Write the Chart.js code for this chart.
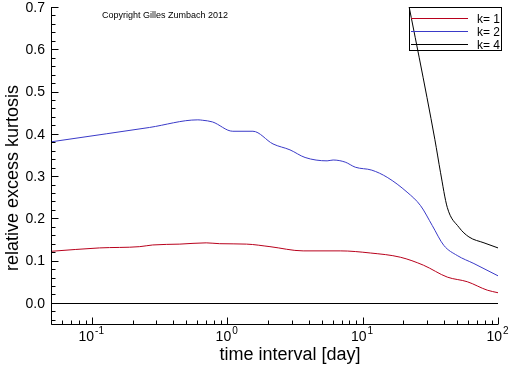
<!DOCTYPE html>
<html>
<head>
<meta charset="utf-8">
<script src="https://cdn.jsdelivr.net/npm/chart.js@4/dist/chart.umd.min.js"></script>
<style>
  html,body{margin:0;padding:0;background:#fff;}
  #wrap{width:512px;height:366px;position:relative;}
</style>
</head>
<body>
<div id="wrap"><canvas id="c" width="512" height="366"></canvas></div>
<script>
// values
const k1X = [0.05,0.114,0.226,0.282,0.447,0.70,0.88,1.39,2.07,3.64,6.84,11.4,19.0,28.2,42.2,59.3,83.4,100];
const k1Y = [0.122,0.130,0.133,0.137,0.139,0.142,0.140,0.139,0.133,0.123,0.123,0.118,0.108,0.089,0.061,0.050,0.030,0.024];

const k2X = [0.05,0.128,0.267,0.607,0.66,0.78,1.10,1.55,2.18,2.91,3.76,5.47,6.06,7.44,8.83,11.7,15.2,21.3,26.8,32.7,39.8,50,66.4,100];
const k2Y = [0.381,0.400,0.415,0.433,0.432,0.428,0.406,0.406,0.376,0.362,0.344,0.336,0.338,0.333,0.321,0.314,0.297,0.262,0.230,0.183,0.136,0.112,0.093,0.064];

const k4X = [20,34.2,37.6,42.2,51.4,61,78.8,100];
const k4Y = [0.77,0.386,0.309,0.226,0.179,0.156,0.142,0.130];

const seriesLabels = ["k= 1","k= 2","k= 4"];
const seriesColors = ["#b8001c","#3a3ac8","#000000"];

const yMajor = [0.0,0.1,0.2,0.3,0.4,0.5,0.6,0.7];
const yTickLabels = ["0.0","0.1","0.2","0.3","0.4","0.5","0.6","0.7"];
const xMajor = [0.1,1,10,100];
const xExp = ["-1","0","1","2"];

const FONT = "'Liberation Sans', Arial, Helvetica, sans-serif";
const pts = (xs, ys) => xs.map((x,i)=>({x, y: ys[i]}));

function minorY(){
  const out=[];
  for(let v=-4; v<=70; v+=2){ if(v%10!==0) out.push(v/100); }
  return out;
}
function minorX(){
  const out=[];
  [0.01,0.1,1,10].forEach(d=>{ for(let m=2;m<=9;m++){ const v=m*d; if(v>=0.05 && v<=100) out.push(v); } });
  return out;
}

const axesPlugin = {
  id:"axesPlugin",
  beforeDatasetsDraw(chart){
    const {ctx, chartArea:a, scales:{y}} = chart;
    ctx.save();
    ctx.strokeStyle="#000"; ctx.lineWidth=1;
    const zy = Math.round(y.getPixelForValue(0))+0.5;
    ctx.beginPath(); ctx.moveTo(a.left, zy); ctx.lineTo(a.right, zy); ctx.stroke();
    ctx.restore();
  },
  afterDraw(chart){
    const {ctx, chartArea:a, scales:{x, y}} = chart;
    ctx.save();
    ctx.strokeStyle="#000"; ctx.fillStyle="#000"; ctx.lineWidth=1;
    const L = Math.round(a.left)+0.5, B = Math.round(a.bottom)+0.5;
    // axis lines
    ctx.beginPath();
    ctx.moveTo(L, a.top); ctx.lineTo(L, B); ctx.lineTo(a.right, B);
    ctx.stroke();
    // y ticks (inside)
    ctx.beginPath();
    yMajor.forEach(v=>{ const p=Math.round(y.getPixelForValue(v))+0.5; ctx.moveTo(L,p); ctx.lineTo(L+7,p); });
    minorY().forEach(v=>{ const p=Math.round(y.getPixelForValue(v))+0.5; ctx.moveTo(L,p); ctx.lineTo(L+4,p); });
    // x ticks (inside)
    xMajor.forEach(v=>{ const p=Math.round(x.getPixelForValue(v))+0.5; ctx.moveTo(p,B); ctx.lineTo(p,B-7); });
    minorX().forEach(v=>{ const p=Math.round(x.getPixelForValue(v))+0.5; ctx.moveTo(p,B); ctx.lineTo(p,B-4); });
    ctx.stroke();
    // y labels
    ctx.font = "14px "+FONT; ctx.textAlign="right"; ctx.textBaseline="middle";
    yMajor.forEach((v,i)=>{ ctx.fillText(yTickLabels[i], a.left-6, y.getPixelForValue(v)+1); });
    // x labels 10^n
    xMajor.forEach((v,i)=>{
      const p = x.getPixelForValue(v);
      ctx.font = "14px "+FONT;
      const wb = ctx.measureText("10").width;
      ctx.font = "10px "+FONT;
      const we = ctx.measureText(xExp[i]).width;
      const x0 = p - (wb+we)/2 - 1;
      ctx.textAlign="left"; ctx.textBaseline="alphabetic";
      ctx.font = "14px "+FONT; ctx.fillText("10", x0, 341);
      ctx.font = "10px "+FONT; ctx.fillText(xExp[i], x0+wb+1, 334);
    });
    // axis titles
    ctx.font = "18px "+FONT; ctx.textAlign="center"; ctx.textBaseline="middle";
    ctx.fillText("time interval [day]", 290, 355);
    ctx.save();
    ctx.translate(13, 178); ctx.rotate(-Math.PI/2);
    ctx.fillText("relative excess kurtosis", 0, 0);
    ctx.restore();
    // copyright
    ctx.font = "9px "+FONT; ctx.textAlign="center";
    ctx.fillText("Copyright Gilles Zumbach 2012", 165, 16);
    // legend
    const lx=409.5, ly=7.5, lw=92, lh=43;
    ctx.strokeRect(lx, ly, lw, lh);
    chart.data.datasets.forEach((ds,i)=>{
      const yy = Math.round(18 + i*13)+0.5;
      ctx.strokeStyle = ds.borderColor; ctx.beginPath();
      ctx.moveTo(411, yy); ctx.lineTo(468, yy); ctx.stroke();
      ctx.fillStyle="#000"; ctx.font="12px "+FONT; ctx.textAlign="left"; ctx.textBaseline="middle";
      ctx.fillText(ds.label, 477, yy+1);
    });
    ctx.restore();
  }
};

new Chart(document.getElementById("c"), {
  type:"line",
  data:{
    datasets:[
      {label:seriesLabels[0], data:pts(k1X,k1Y), borderColor:seriesColors[0]},
      {label:seriesLabels[1], data:pts(k2X,k2Y), borderColor:seriesColors[1]},
      {label:seriesLabels[2], data:pts(k4X,k4Y), borderColor:seriesColors[2]}
    ].map(d=>Object.assign(d,{borderWidth:1, pointRadius:0, fill:false, cubicInterpolationMode:"monotone"}))
  },
  options:{
    responsive:false, animation:false,
    layout:{padding:{top:7, right:14, left:0, bottom:0}},
    plugins:{legend:{display:false}, tooltip:{enabled:false}},
    scales:{
      x:{type:"logarithmic", min:0.05, max:100,
         grid:{display:false}, border:{display:false}, ticks:{display:false},
         afterFit(s){ s.height = 42; }},
      y:{type:"linear", min:-0.05, max:0.7,
         grid:{display:false}, border:{display:false}, ticks:{display:false},
         afterFit(s){ s.width = 51; }}
    }
  },
  plugins:[axesPlugin]
});
</script>
</body>
</html>
